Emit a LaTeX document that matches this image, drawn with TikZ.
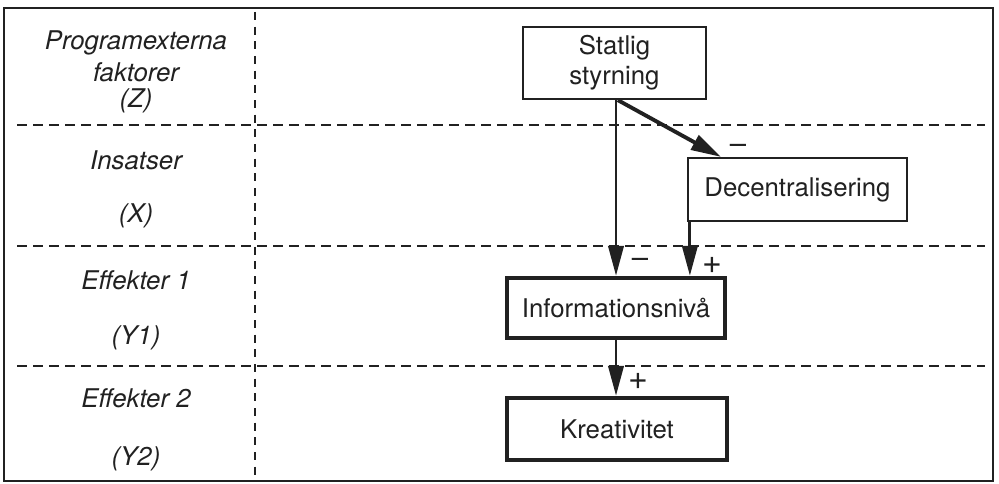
\documentclass[tikz,border=0pt]{standalone}
\usepackage{fontspec}
\setmainfont{TeX Gyre Heros}
\usetikzlibrary{arrows.meta}
\definecolor{ink}{gray}{0.13}
\tikzset{
  box/.style={draw=ink, line width=1.9pt, align=center, inner sep=0pt, text=ink,
    font=\fontsize{22}{25.6}\selectfont},
  thickbox/.style={box, line width=3.8pt},
  lab/.style={text=ink, font=\fontsize{22}{25.6}\selectfont\itshape, inner sep=0pt},
  sign/.style={text=ink, font=\fontsize{25}{28}\selectfont, inner sep=0pt},
  plussign/.style={text=ink, font=\fontsize{29}{32}\selectfont, inner sep=0pt},
  sep/.style={draw=ink, line width=1.7pt, dash pattern=on 0.3cm off 0.18cm},
  vsep/.style={draw=ink, line width=1.7pt, dash pattern=on 0.24cm off 0.2cm},
  arr/.style={draw=ink, line width=2.5pt, -{Triangle[length=0.9cm,width=0.46cm]}},
  darr/.style={draw=ink, line width=3.3pt, -{Triangle[length=0.9cm,width=0.48cm]}},
}
\begin{document}
\begin{tikzpicture}[x=0.03cm,y=-0.03cm]
\useasboundingbox (0,0) rectangle (999,484);
\fill[white] (0,0) rectangle (999,484);
% frame
\draw[ink, line width=1.9pt] (4,8) rectangle (993,481);
% separators
\draw[vsep] (255,12) -- (255,481);
\draw[sep] (17,125) -- (985,125);
\draw[sep] (17,246) -- (985,246);
\draw[sep] (17,366) -- (985,366);
% left labels
\node[lab] (l1) at (136,43) {Programexterna};
\node[lab] (l2) at (136,72) {faktorer};
\node[lab] (l3) at (136,101) {(Z)};
\node[lab] (l4) at (136,160) {Insatser};
\node[lab] (l5) at (136,216) {(X)};
\node[lab] (l6) at (136,280) {Effekter 1};
\node[lab] (l7) at (136,338) {(Y1)};
\node[lab] (l8) at (136,398) {Effekter 2};
\node[lab] (l9) at (136,459) {(Y2)};
% boxes
\node[box, minimum width=5.49cm, minimum height=2.16cm] (stat) at (614.5,63) {Statlig\\styrning};
\node[box, minimum width=6.57cm, minimum height=1.89cm] (dec) at (797.5,189.5) {Decentralisering};
\node[thickbox, minimum width=6.54cm, minimum height=1.8cm] (info) at (616,308) {Informationsnivå};
\node[thickbox, minimum width=6.6cm, minimum height=1.86cm] (krea) at (617,429) {Kreativitet};
% arrows
\draw[arr] (info.north |- stat.south) -- (info.north);
\draw[darr] ([xshift=0.1cm]stat.south) -- ([xshift=1.02cm]dec.north west);
\draw[arr] ([xshift=0.09cm]dec.south west) -- ([xshift=0.09cm]dec.south west |- info.north);
\draw[arr] (info.south) -- (info.south |- krea.north);
% signs
\node[sign] (s1) at (738,149) {–};
\node[sign] (s2) at (640,263) {–};
\node[plussign] (s3) at (712,265) {+};
\node[plussign] (s4) at (638,381) {+};
\end{tikzpicture}
\end{document}
